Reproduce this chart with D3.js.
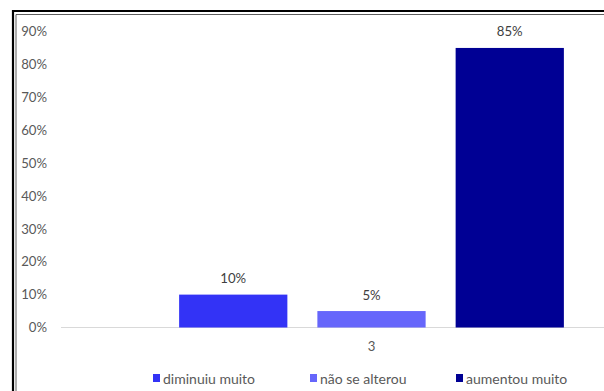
<!DOCTYPE html>
<html>
<head>
<meta charset="utf-8">
<script src="https://cdn.jsdelivr.net/npm/d3@7"></script>
<style>
  html, body { margin: 0; padding: 0; background: #fff; }
  svg { display: block; }
  text { font-family: Lato, "Open Sans", sans-serif; }
</style>
</head>
<body>
<svg id="chart" width="604" height="391"></svg>
<script>
// Survey answers for question 3
const categories = ["3"];
const seriesNames = ["diminuiu muito", "não se alterou", "aumentou muito"];
const seriesValues = [0.10, 0.05, 0.85];
const seriesColors = ["#3333f6", "#6666fb", "#000094"];
const yTicks = [0, 0.1, 0.2, 0.3, 0.4, 0.5, 0.6, 0.7, 0.8, 0.9];

const FONT = 14;      // legend text
const NUM_FONT = 13.2; // numbers on axes and bars
const svg = d3.select("#chart");
const W = 604, H = 391;

// Frame: thick outer line with a thin inner line
svg.append("rect").attr("width", W).attr("height", H).attr("fill", "#fff");
svg.append("path")
  .attr("d", `M13,${H} V11 H${W}`)
  .attr("fill", "none").attr("stroke", "#000").attr("stroke-width", 2.2);
svg.append("path")
  .attr("d", `M16,${H} V14.5 H${W}`)
  .attr("fill", "none").attr("stroke", "#333").attr("stroke-width", 0.8);

const plotLeft = 61, plotRight = 682;
const y = d3.scaleLinear().domain([0, 0.9]).range([327.5, 31.5]);
const x0 = d3.scaleBand().domain(categories).range([plotLeft, plotRight]).paddingInner(0).paddingOuter(0.307);
const x1 = d3.scaleBand().domain(seriesNames).range([0, x0.bandwidth()]).paddingInner(0.217).paddingOuter(0);

// Y axis labels (no axis line)
const yAxis = d3.axisLeft(y).tickValues(yTicks).tickFormat(d3.format(".0%")).tickSize(0).tickPadding(0);
const gy = svg.append("g").attr("transform", "translate(47,0)").call(yAxis);
gy.select(".domain").remove();
gy.selectAll("text").attr("fill", "#595959").attr("font-size", NUM_FONT).attr("font-family", "Lato, sans-serif");

// X axis baseline and category label
const xAxis = d3.axisBottom(x0).tickSize(0).tickPadding(14);
const gx = svg.append("g").attr("transform", `translate(0,${y(0)})`).call(xAxis);
gx.select(".domain").attr("stroke", "#d9d9d9").attr("stroke-width", 1).attr("d", `M${plotLeft},0H${W}`);
gx.selectAll("text").attr("fill", "#595959").attr("font-size", NUM_FONT).attr("font-family", "Lato, sans-serif");
gx.selectAll(".tick line").remove();

// Bars
const groups = svg.append("g").selectAll("g").data(categories).join("g")
  .attr("transform", d => `translate(${x0(d)},0)`);
const rows = seriesNames.map((n, i) => ({ name: n, value: seriesValues[i], color: seriesColors[i] }));
groups.selectAll("rect").data(rows).join("rect")
  .attr("x", d => x1(d.name))
  .attr("y", d => y(d.value))
  .attr("width", x1.bandwidth())
  .attr("height", d => y(0) - y(d.value))
  .attr("fill", d => d.color);

// Value labels
groups.selectAll("text.val").data(rows).join("text")
  .attr("class", "val")
  .attr("x", d => x1(d.name) + x1.bandwidth() / 2)
  .attr("y", d => y(d.value) - 11.5)
  .attr("text-anchor", "middle")
  .attr("fill", "#404040")
  .attr("font-size", NUM_FONT)
  .text(d => d3.format(".0%")(d.value));

// Legend
const legendX = [153, 310, 456];
const legend = svg.append("g").selectAll("g").data(rows).join("g")
  .attr("transform", (d, i) => `translate(${legendX[i]},374)`);
legend.append("rect").attr("width", 7).attr("height", 8).attr("fill", d => d.color);
legend.append("text").attr("x", 10).attr("y", 10)
  .attr("fill", "#595959").attr("font-size", FONT)
  .text(d => d.name);
</script>
</body>
</html>
